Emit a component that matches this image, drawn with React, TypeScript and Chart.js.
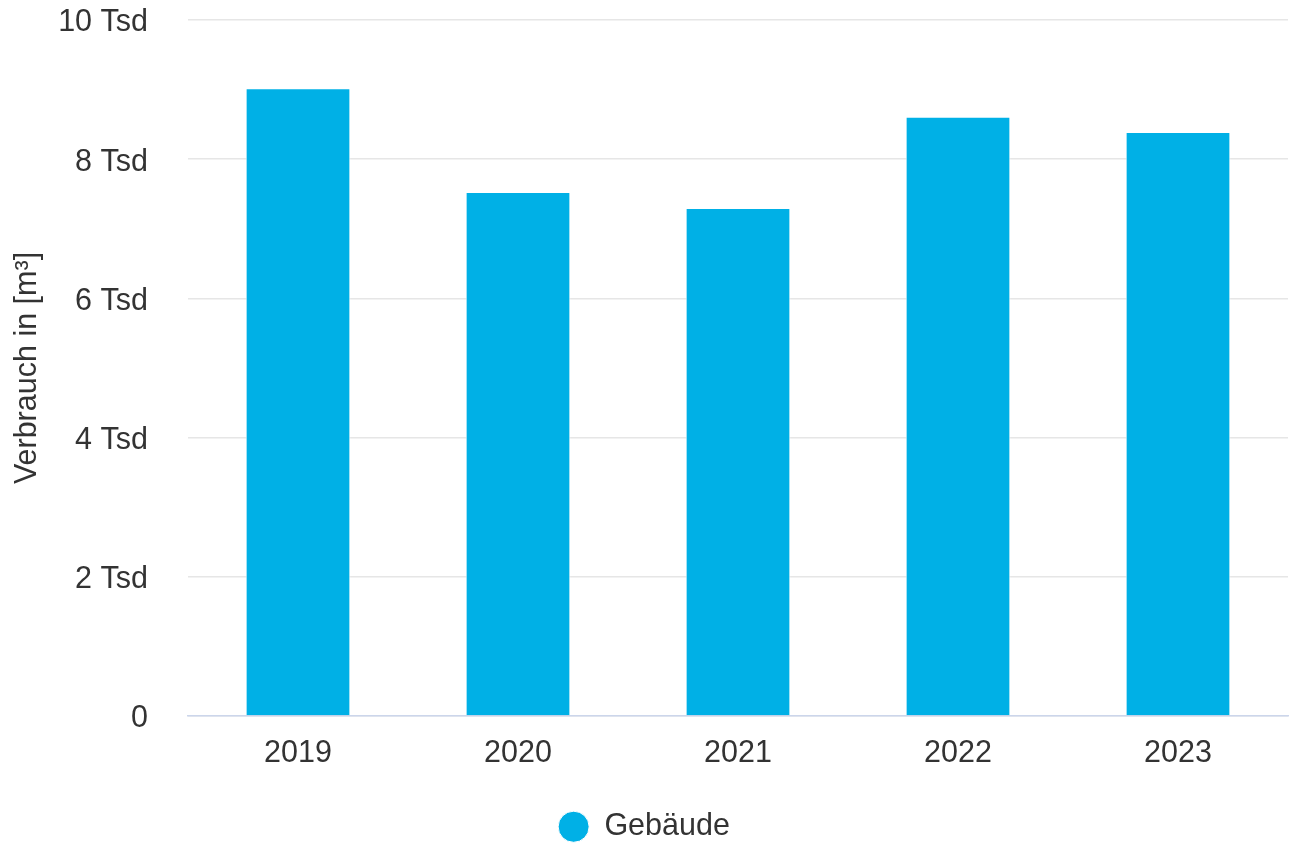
import React, { useEffect, useRef } from "react";
import { Chart, registerables } from "chart.js";

Chart.register(...registerables);

const categories = ["2019", "2020", "2021", "2022", "2023"];
const seriesName = "Gebäude";
const values = [9020, 7530, 7300, 8610, 8390];
const yTicks = [0, 2000, 4000, 6000, 8000, 10000];
const yTitle = "Verbrauch in [m³]";

const FONT = "'Liberation Sans', Arial, sans-serif";
const SIZE = 30.5;

export default function App() {
  const ref = useRef<HTMLCanvasElement | null>(null);
  useEffect(() => {
    document.body.style.margin = "0";
    const ctx = ref.current!;
    const chart = new Chart(ctx, {
      type: "bar",
      data: {
        labels: categories,
        datasets: [
          {
            label: seriesName,
            data: values,
            backgroundColor: "#00b0e6",
            borderColor: "#ffffff",
            borderWidth: 1,
            barPercentage: 0.476,
            categoryPercentage: 1,
          },
        ],
      },
      options: {
        responsive: false,
        animation: false,
        layout: { padding: { top: 20, right: 2, left: 0, bottom: -8 } },
        plugins: {
          tooltip: { enabled: false },
          legend: {
            position: "bottom",
            labels: {
              usePointStyle: true,
              pointStyle: "circle",
              pointStyleWidth: 31,
              boxHeight: 22,
              padding: 2,
              color: "#333333",
              font: { family: FONT, size: SIZE },
            },
          },
        },
        scales: {
          x: {
            grid: { display: false, drawTicks: false },
            border: { display: true, color: "#ccd6eb", width: 1.5 },
            ticks: {
              color: "#333333",
              padding: 19,
              font: { family: FONT, size: SIZE },
            },
            afterFit: (s: any) => {
              s.height = 93.5;
            },
          },
          y: {
            min: 0,
            max: 10000,
            afterBuildTicks: (s: any) => {
              s.ticks = yTicks.map((v) => ({ value: v }));
            },
            grid: {
              color: "#e6e6e6",
              lineWidth: 1.5,
              drawTicks: true,
              tickLength: 40,
              tickColor: "rgba(0,0,0,0)",
            },
            border: { display: false },
            ticks: {
              color: "#333333",
              padding: 0,
              labelOffset: 3,
              font: { family: FONT, size: SIZE },
              callback: (v: any) => (Number(v) === 0 ? "0" : Number(v) / 1000 + " Tsd"),
            },
            title: {
              display: true,
              text: yTitle,
              color: "#333333",
              padding: { top: 9, bottom: 0 },
              font: { family: FONT, size: SIZE },
            },
            afterFit: (s: any) => {
              s.width = 188;
            },
          },
        },
      },
    });
    return () => chart.destroy();
  }, []);
  return (
    <div style={{ position: "absolute", left: 0, top: 0, width: 1290, height: 844 }}>
      <canvas ref={ref} width={1290} height={844} style={{ width: 1290, height: 844 }} />
    </div>
  );
}
